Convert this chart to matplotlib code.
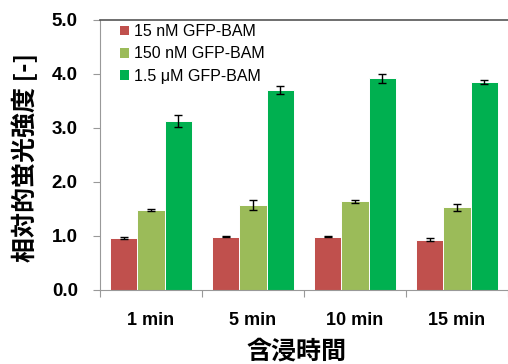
import matplotlib
matplotlib.use("Agg")
import matplotlib.pyplot as plt
import numpy as np
from matplotlib.ticker import FormatStrFormatter, FixedLocator

# Immersion time groups and relative fluorescence values (mean ± error)
categories = ["1 min", "5 min", "10 min", "15 min"]
series_names = ["15 nM GFP-BAM", "150 nM GFP-BAM", "1.5 μM GFP-BAM"]
values_15nM = [0.97, 0.99, 0.99, 0.93]
errors_15nM = [0.02, 0.01, 0.01, 0.03]
values_150nM = [1.48, 1.57, 1.64, 1.53]
errors_150nM = [0.02, 0.09, 0.03, 0.07]
values_1500nM = [3.13, 3.70, 3.92, 3.85]
errors_1500nM = [0.11, 0.07, 0.08, 0.03]
yticks = [0.0, 1.0, 2.0, 3.0, 4.0, 5.0]

colors = ["#C0504D", "#9BBB59", "#00B050"]
latin = "Liberation Sans"
cjk = ["Noto Sans CJK JP", "DejaVu Sans"]

fig = plt.figure(figsize=(5.08, 3.64), dpi=100)
ax = fig.add_axes([100 / 508, 1 - 290 / 364, 408 / 508, 270 / 364])

x = np.arange(len(categories))
w = 0.265
series = [(values_15nM, errors_15nM), (values_150nM, errors_150nM), (values_1500nM, errors_1500nM)]
for i, ((vals, errs), name, c) in enumerate(zip(series, series_names, colors)):
    ax.bar(x + (i - 1) * w, vals, width=w, color=c, edgecolor="white", linewidth=0.7,
           label=name, zorder=2)
    ax.errorbar(x + (i - 1) * w, vals, yerr=errs, fmt="none", ecolor="black",
                elinewidth=1.0, capsize=3, capthick=1.0, zorder=3)

ax.set_xlim(-0.5, len(categories) - 0.5)
ax.set_ylim(0, 5)
ax.set_yticks(yticks)
ax.yaxis.set_major_formatter(FormatStrFormatter("%.1f"))
ax.tick_params(axis="y", direction="out", length=5, width=0.8, color="#999999", pad=11)
for lab in ax.get_yticklabels():
    lab.set_fontfamily(latin)
    lab.set_fontweight("bold")
    lab.set_fontsize(13.5)

ax.set_xticks(x)
ax.set_xticklabels(categories)
ax.tick_params(axis="x", which="major", length=0, pad=16)
ax.xaxis.set_minor_locator(FixedLocator(np.arange(-0.5, len(categories), 1.0)))
ax.tick_params(axis="x", which="minor", direction="out", length=5, width=0.8, color="#999999")
for lab in ax.get_xticklabels():
    lab.set_fontfamily(latin)
    lab.set_fontweight("bold")
    lab.set_fontsize(13)

ax.spines["left"].set_color("#999999")
ax.spines["bottom"].set_color("#999999")
ax.spines["top"].set_color("#555555")
ax.spines["top"].set_linewidth(1.2)
ax.spines["right"].set_visible(False)

leg = ax.legend(loc="upper left", bbox_to_anchor=(0.025, 1.02), frameon=False,
                prop={"family": latin, "size": 11.5}, handlelength=0.55, handleheight=0.55,
                handletextpad=0.35, labelspacing=0.45, borderaxespad=0.2)
for h in leg.legend_handles:
    h.set_edgecolor("none")

fig.text(25 / 508, 1 - 157 / 364, "相対的蛍光強度 [-]", rotation=90, ha="center", va="center",
         fontsize=18, fontweight="bold", family=cjk)
fig.text(296 / 508, 1 - 340 / 364, "含浸時間", ha="center", va="top",
         fontsize=18, fontweight="bold", family=cjk)

fig.savefig("out.png", dpi=100)
